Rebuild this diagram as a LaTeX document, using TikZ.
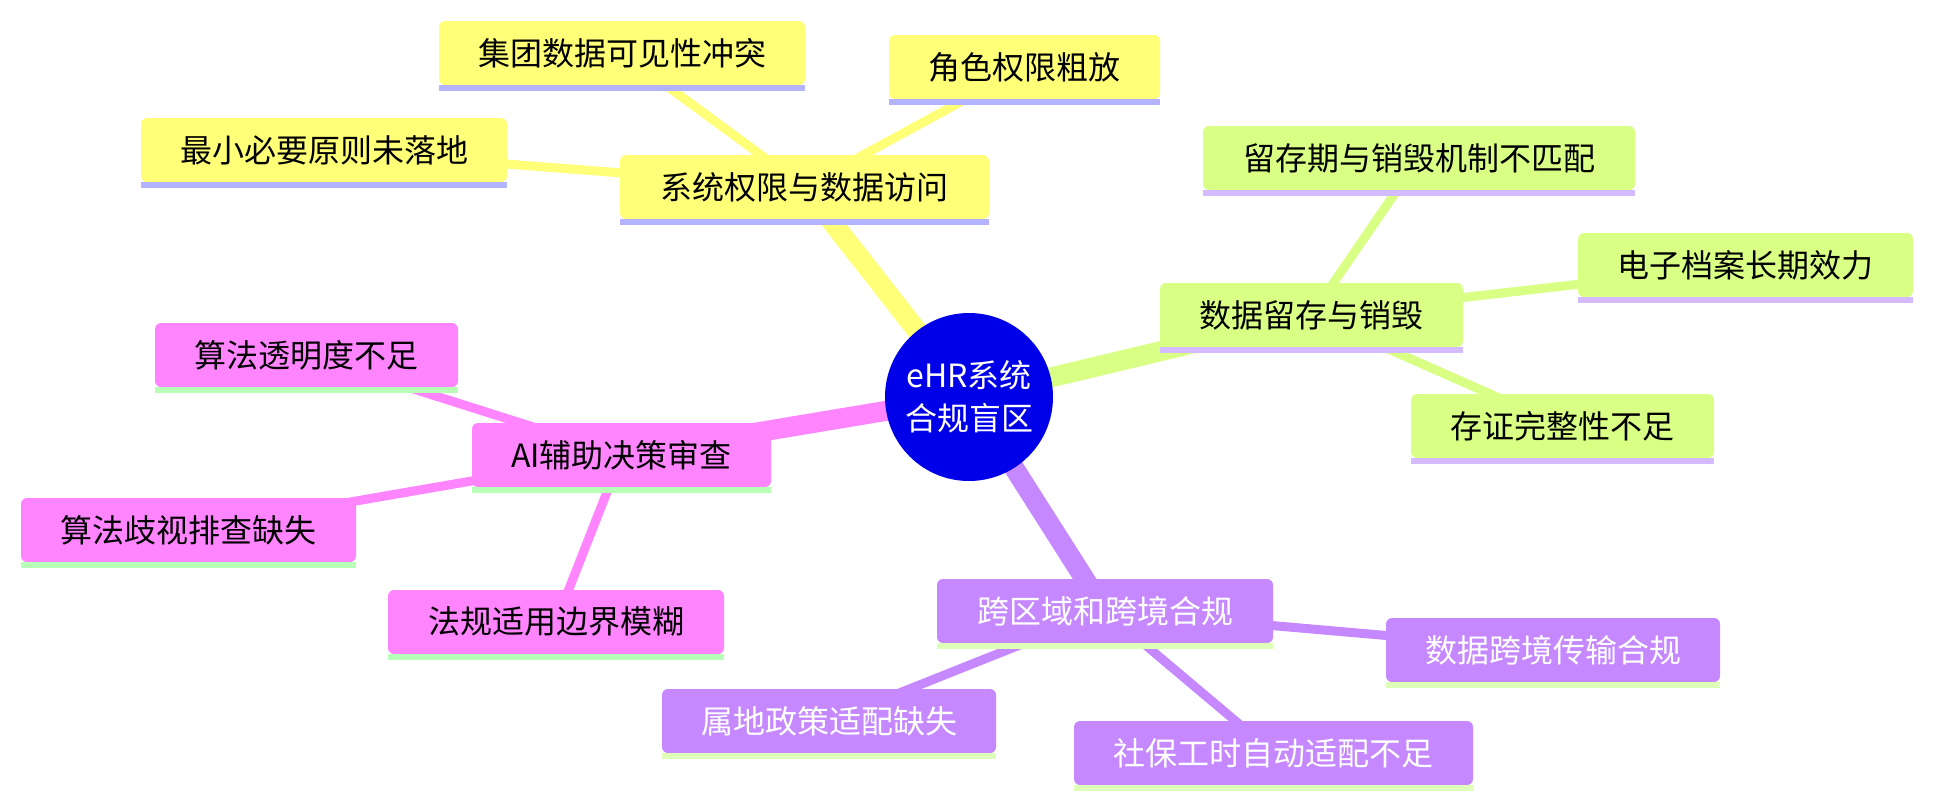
\documentclass[tikz,border=0pt]{standalone}
\usepackage{fontspec}
\setmainfont{Noto Sans CJK SC}
\usetikzlibrary{calc,backgrounds}
\definecolor{cY}{HTML}{FFFF78}
\definecolor{cG}{HTML}{D9FF85}
\definecolor{cP}{HTML}{FF85FF}
\definecolor{cV}{HTML}{C588FF}
\definecolor{uY}{HTML}{B3B3FF}
\definecolor{uG}{HTML}{D4BAFF}
\definecolor{uP}{HTML}{B8FFB8}
\definecolor{uV}{HTML}{DDFFB8}
\definecolor{cRoot}{HTML}{0000E8}
\tikzset{
  box/.style={rounded corners=6pt, minimum height=64pt, inner sep=0pt,
    font=\fontsize{32}{38}\selectfont},
  mainedge/.style={line width=20pt},
  leafedge/.style={line width=9pt},
}
\begin{document}
\begin{tikzpicture}[x=1pt,y=-1pt]
\useasboundingbox (0,0) rectangle (1933,807);
% root
\node[circle, fill=cRoot, minimum size=168pt, inner sep=0pt, text=white, align=center,
  font=\fontsize{32}{43}\selectfont] (root) at (969,397) {eHR系统\\合规盲区};
% yellow section
\node[box, fill=cY, minimum width=369pt] (sys) at (804.5,187) {系统权限与数据访问};
\node[box, fill=cY, minimum width=366pt] (jt) at (622,53) {集团数据可见性冲突};
\node[box, fill=cY, minimum width=271pt] (js) at (1024.5,67) {角色权限粗放};
\node[box, fill=cY, minimum width=366pt] (zx) at (324,150) {最小必要原则未落地};
% green section
\node[box, fill=cG, minimum width=303pt] (ret) at (1311.5,315) {数据留存与销毁};
\node[box, fill=cG, minimum width=432pt] (lc) at (1419,158) {留存期与销毁机制不匹配};
\node[box, fill=cG, minimum width=335pt] (dz) at (1745.5,265) {电子档案长期效力};
\node[box, fill=cG, minimum width=303pt] (cz) at (1562.5,426) {存证完整性不足};
% pink section
\node[box, fill=cP, minimum width=299pt] (ai) at (621.5,455) {AI辅助决策审查};
\node[box, fill=cP, minimum width=303pt] (tm) at (306.5,355) {算法透明度不足};
\node[box, fill=cP, minimum width=335pt] (qs) at (188.5,530) {算法歧视排查缺失};
\node[box, fill=cP, minimum width=336pt] (fg) at (556,622) {法规适用边界模糊};
% purple section
\node[box, fill=cV, minimum width=336pt, text=white] (kq) at (1105,611) {跨区域和跨境合规};
\node[box, fill=cV, minimum width=334pt, text=white] (cj) at (1553,650) {数据跨境传输合规};
\node[box, fill=cV, minimum width=334pt, text=white] (sd) at (829,721) {属地政策适配缺失};
\node[box, fill=cV, minimum width=399pt, text=white] (sb) at (1273.5,753) {社保工时自动适配不足};
% underlines
\foreach \n/\c in {sys/uY,jt/uY,js/uY,zx/uY,ret/uG,lc/uG,dz/uG,cz/uG,ai/uP,tm/uP,qs/uP,fg/uP,kq/uV,cj/uV,sd/uV,sb/uV}{
  \fill[\c] (\n.south west) rectangle ($(\n.south east)+(0,6)$);
}
\begin{pgfonlayer}{background}
% main edges
\foreach \m/\c in {sys/cY,ret/cG,ai/cP,kq/cV}{
  \draw[mainedge, draw=\c] (root.center) -- (\m.center);
}
% leaf edges
\foreach \a/\b/\c in {sys/jt/cY,sys/js/cY,sys/zx/cY,ret/lc/cG,ret/dz/cG,ret/cz/cG,ai/tm/cP,ai/qs/cP,ai/fg/cP,kq/cj/cV,kq/sd/cV,kq/sb/cV}{
  \draw[leafedge, draw=\c] (\a.center) -- (\b.center);
}
\end{pgfonlayer}
\end{tikzpicture}
\end{document}
